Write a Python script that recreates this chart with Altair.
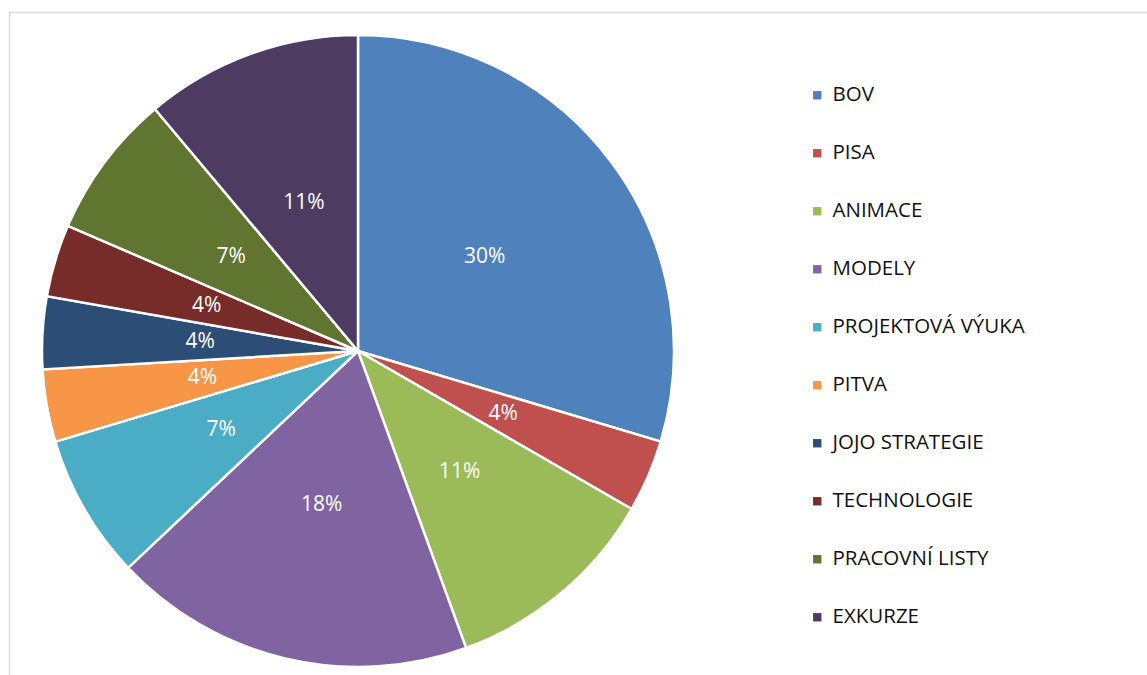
import altair as alt
import pandas as pd

categories = ["BOV", "PISA", "ANIMACE", "MODELY", "PROJEKTOVÁ VÝUKA", "PITVA",
              "JOJO STRATEGIE", "TECHNOLOGIE", "PRACOVNÍ LISTY", "EXKURZE"]
counts = [8, 1, 3, 5, 2, 1, 1, 1, 2, 3]
pct_labels = ["30%", "4%", "11%", "18%", "7%", "4%", "4%", "4%", "7%", "11%"]
colors = ["#4F81BD", "#C0504D", "#9BBB59", "#8064A2", "#4BACC6", "#F79646",
          "#2C4D75", "#772C2A", "#5F7530", "#4D3B62"]

df = pd.DataFrame({
    "cat": categories,
    "count": counts,
    "idx": list(range(len(categories))),
    "label": pct_labels,
})

W, H = 1138, 663
CX, CY, R = 349, 339, 316

base = alt.Chart(df).encode(
    theta=alt.Theta("count:Q", stack=True),
    order=alt.Order("idx:Q", sort="ascending"),
)

arcs = base.mark_arc(outerRadius=R, stroke="white", strokeWidth=2.5).encode(
    x=alt.value(CX), y=alt.value(CY),
    color=alt.Color(
        "cat:N",
        sort=categories,
        scale=alt.Scale(domain=categories, range=colors),
        legend=alt.Legend(
            title=None, orient="none", legendX=798, legendY=73,
            symbolType="square", symbolSize=70, symbolStrokeWidth=0,
            labelFont="Open Sans", labelFontSize=20.5, labelColor="#111111",
            labelLimit=400,
            rowPadding=37, labelOffset=5, padding=0, symbolOffset=0,
        ),
    ),
)

labels = base.mark_text(radius=158, font="Open Sans", fontSize=21, color="white").encode(
    x=alt.value(CX), y=alt.value(CY),
    text=alt.Text("label:N"),
)

frame_df = pd.DataFrame({"a": [0]})
top_line = alt.Chart(frame_df).mark_rule(color="#D9D9D9", strokeWidth=1.5).encode(
    x=alt.value(0), x2=alt.value(W), y=alt.value(0.5))
left_line = alt.Chart(frame_df).mark_rule(color="#D9D9D9", strokeWidth=1.5).encode(
    x=alt.value(0.5), y=alt.value(0), y2=alt.value(H))

chart = alt.layer(top_line, left_line, arcs, labels).properties(
    width=W, height=H,
    padding={"left": 9, "top": 12, "right": 0, "bottom": 0},
    autosize=alt.AutoSizeParams(type="none"),
    background="white",
).configure_view(stroke=None)

chart.save("out.html", embed_options={"renderer": "svg", "actions": False})
